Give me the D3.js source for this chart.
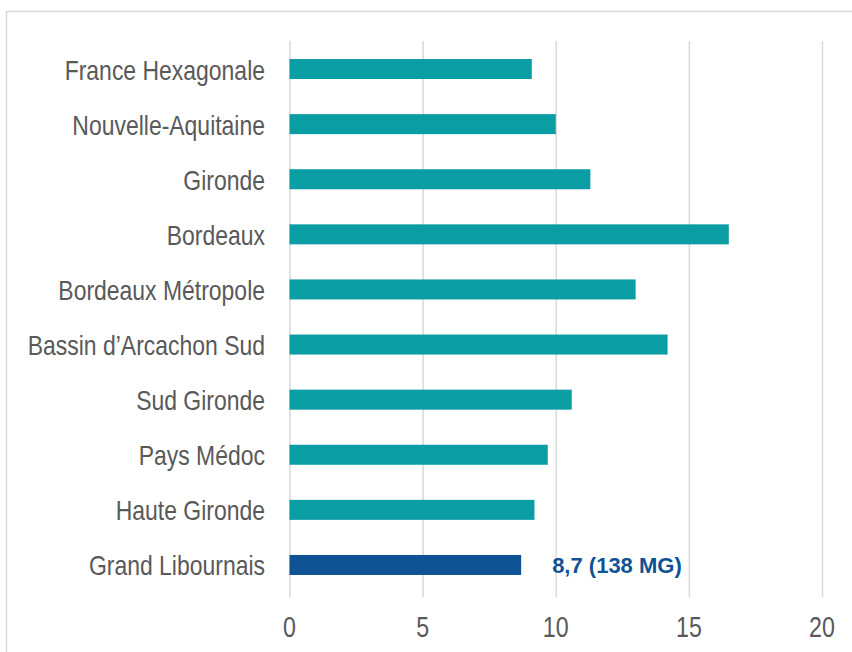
<!DOCTYPE html>
<html>
<head>
<meta charset="utf-8">
<script src="https://cdn.jsdelivr.net/npm/d3@7"></script>
<style>
  html, body { margin: 0; padding: 0; background: #ffffff; }
  svg { display: block; }
</style>
</head>
<body>
<svg id="chart" width="852" height="652"></svg>
<script>
const categories = ["France Hexagonale", "Nouvelle-Aquitaine", "Gironde", "Bordeaux", "Bordeaux Métropole", "Bassin d’Arcachon Sud", "Sud Gironde", "Pays Médoc", "Haute Gironde", "Grand Libournais"];
const values = [9.1, 10.0, 11.3, 16.5, 13.0, 14.2, 10.6, 9.7, 9.2, 8.7];
const highlight = "Grand Libournais";
const highlightLabel = "8,7 (138 MG)";
const xTicks = [0, 5, 10, 15, 20];

const svg = d3.select("#chart");
const W = 852, H = 652;
const font = "'Liberation Sans', Arial, sans-serif";
const gridTop = 41, gridBottom = 597;

// frame
svg.append("path")
  .attr("d", `M6.5,${H} V11.5 H${W}`)
  .attr("fill", "none").attr("stroke", "#d9d9d9").attr("stroke-width", 1.5);

const x = d3.scaleLinear().domain([0, 20]).range([289.5, 822]);
const y = d3.scaleBand().domain(categories).range([41.4, 592.6]).paddingInner(0.637).paddingOuter(0.32);

// grid
const xAxis = d3.axisBottom(x).tickValues(xTicks).tickSize(gridBottom - gridTop).tickFormat("");
const gx = svg.append("g").attr("transform", `translate(0,${gridTop})`).call(xAxis);
gx.select(".domain").remove();
gx.selectAll(".tick line").attr("stroke", "#d9d9d9").attr("stroke-width", 1.5);

// condensed tick labels
const tickSX = 0.8;
svg.append("g").selectAll("g").data(xTicks).join("g")
  .attr("transform", d => `translate(${x(d)},637) scale(${tickSX},1)`)
  .append("text")
  .attr("text-anchor", "middle")
  .attr("fill", "#595959")
  .style("font-family", font)
  .style("font-size", "29px")
  .text(d => d3.format("d")(d));

// bars
svg.append("g").selectAll("rect").data(categories).join("rect")
  .attr("x", x(0))
  .attr("y", d => y(d))
  .attr("width", (d, i) => x(values[i]) - x(0))
  .attr("height", y.bandwidth())
  .attr("fill", d => d === highlight ? "#0f5394" : "#0a9da3");

// condensed category labels
const labSX = 0.82;
svg.append("g").selectAll("g").data(categories).join("g")
  .attr("transform", d => `translate(${x(0) - 24.5},${y(d) + y.bandwidth() / 2 + 10.5}) scale(${labSX},1)`)
  .append("text")
  .attr("text-anchor", "end")
  .attr("fill", "#595959")
  .style("font-family", font)
  .style("font-size", "28px")
  .text(d => d);

// highlight label
const hi = categories.indexOf(highlight);
svg.append("text")
  .attr("x", x(values[hi]) + 31)
  .attr("y", y(highlight) + y.bandwidth() / 2 + 8)
  .attr("fill", "#0f5394")
  .style("font-family", font)
  .style("font-weight", "bold")
  .style("font-size", "22px")
  .text(highlightLabel);
</script>
</body>
</html>
